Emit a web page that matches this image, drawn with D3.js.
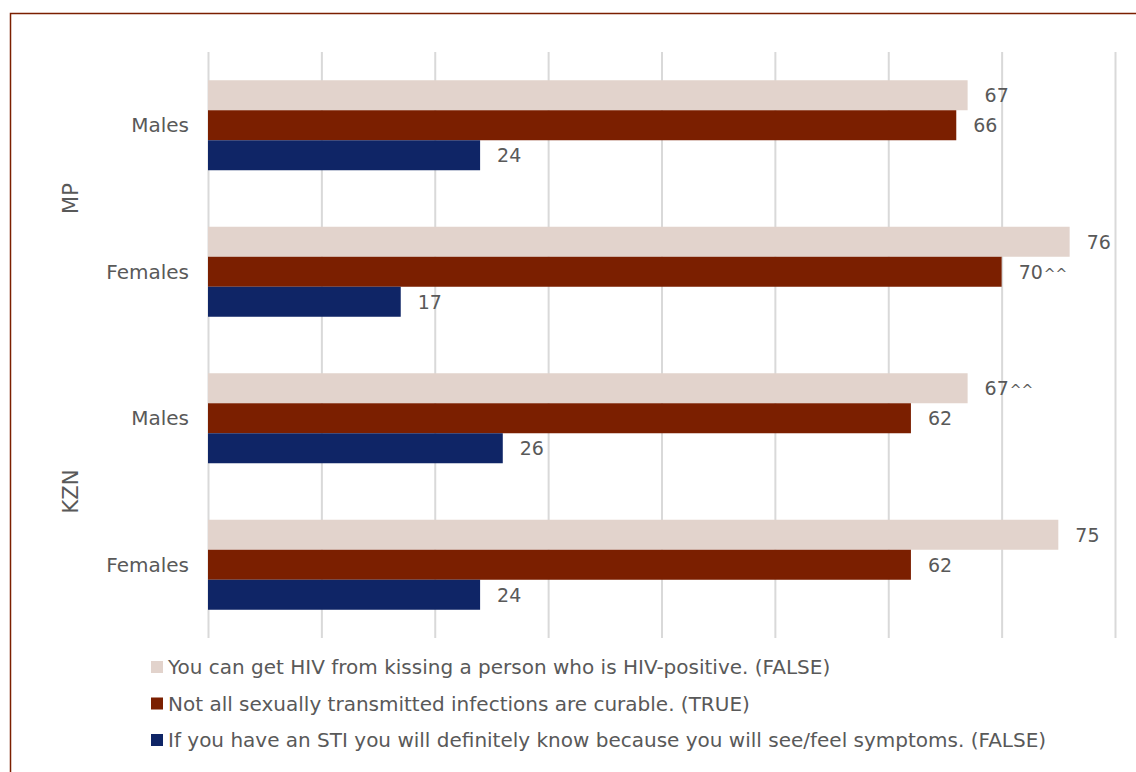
<!DOCTYPE html>
<html>
<head>
<meta charset="utf-8">
<script src="https://cdn.jsdelivr.net/npm/d3@7"></script>
<style>
  html, body { margin: 0; padding: 0; background: #fff; }
  svg { display: block; }
  text { font-family: "DejaVu Sans", "Open Sans", sans-serif; fill: #595959; }
</style>
</head>
<body>
<svg id="chart" width="1136" height="772"></svg>
<script>
// Regions and sex groups, top to bottom
const regions = ["MP", "KZN"];
const groups = ["Males", "Females"];
const rowKeys = ["MP|Males", "MP|Females", "KZN|Males", "KZN|Females"];

// Statements (series) and their colours
const seriesNames = [
  "You can get HIV from kissing a person who is HIV-positive. (FALSE)",
  "Not all sexually transmitted infections are curable. (TRUE)",
  "If you have an STI you will definitely know because you will see/feel symptoms. (FALSE)"
];
const seriesColors = ["#E2D3CC", "#7B1F00", "#0F2566"];

// Percent correct, one array per statement, in rowKeys order
const kissingValues = [67, 76, 67, 75];
const curableValues = [66, 70, 62, 62];
const symptomsValues = [24, 17, 26, 24];

// Significance markers appended to value labels
const kissingMarks = ["", "", "^^", ""];
const curableMarks = ["", "^^", "", ""];
const symptomsMarks = ["", "", "", ""];

const xTicks = [0, 10, 20, 30, 40, 50, 60, 70, 80];

const seriesValues = [kissingValues, curableValues, symptomsValues];
const seriesMarks = [kissingMarks, curableMarks, symptomsMarks];

const svg = d3.select("#chart");
const W = 1136, H = 772;

// Outer frame
svg.append("rect")
  .attr("x", 10.5).attr("y", 13.5)
  .attr("width", W + 20).attr("height", H + 20)
  .attr("fill", "#fff")
  .attr("stroke", "#7B1F00").attr("stroke-width", 1.5);

const plot = { left: 208, right: 1115, top: 52, bottom: 638 };

const x = d3.scaleLinear().domain([0, 80]).range([plot.left, plot.right]);
const yBand = d3.scaleBand().domain(rowKeys).range([plot.top, plot.bottom]).paddingInner(0).paddingOuter(0);
const groupHeight = 90;
const ySub = d3.scaleBand().domain(d3.range(seriesNames.length)).range([0, groupHeight]);

// Vertical gridlines
const grid = svg.append("g").attr("transform", `translate(0,${plot.top})`)
  .call(d3.axisBottom(x).tickValues(xTicks).tickSize(plot.bottom - plot.top).tickFormat(""));
grid.select(".domain").remove();
grid.selectAll(".tick line").attr("stroke", "#D9D9D9").attr("stroke-width", 2);

// Bars and value labels
rowKeys.forEach((key, i) => {
  const y0 = yBand(key) + (yBand.bandwidth() - groupHeight) / 2;
  const g = svg.append("g").attr("transform", `translate(0,${y0})`);
  seriesNames.forEach((s, j) => {
    const v = seriesValues[j][i];
    g.append("rect")
      .attr("x", x(0)).attr("y", ySub(j))
      .attr("width", x(v) - x(0)).attr("height", ySub.bandwidth())
      .attr("fill", seriesColors[j]);
    const t = g.append("text")
      .attr("x", x(v) + 17).attr("y", ySub(j) + ySub.bandwidth() / 2)
      .attr("dy", "0.36em")
      .attr("font-size", 19);
    t.append("tspan").text(String(v));
    const mark = seriesMarks[j][i];
    if (mark) {
      t.append("tspan").attr("font-size", 14).attr("dx", 1).text(mark);
    }
  });
});

// Category labels (sex)
rowKeys.forEach(key => {
  svg.append("text")
    .attr("x", 189).attr("y", yBand(key) + yBand.bandwidth() / 2)
    .attr("dy", "0.36em")
    .attr("text-anchor", "end")
    .attr("font-size", 20)
    .text(key.split("|")[1]);
});

// Region labels (rotated)
regions.forEach((r, i) => {
  const cy = yBand(rowKeys[i * 2]) + yBand.bandwidth();
  svg.append("text")
    .attr("transform", `translate(70,${cy}) rotate(-90)`)
    .attr("dy", "0.36em")
    .attr("text-anchor", "middle")
    .attr("font-size", 21)
    .text(r);
});

// Legend
const legend = svg.append("g");
seriesNames.forEach((s, j) => {
  const cy = 667 + j * 36.5;
  legend.append("rect")
    .attr("x", 151).attr("y", cy - 6)
    .attr("width", 12).attr("height", 12)
    .attr("fill", seriesColors[j]);
  legend.append("text")
    .attr("x", 168).attr("y", cy)
    .attr("dy", "0.36em")
    .attr("font-size", 20)
    .text(s);
});
</script>
</body>
</html>
